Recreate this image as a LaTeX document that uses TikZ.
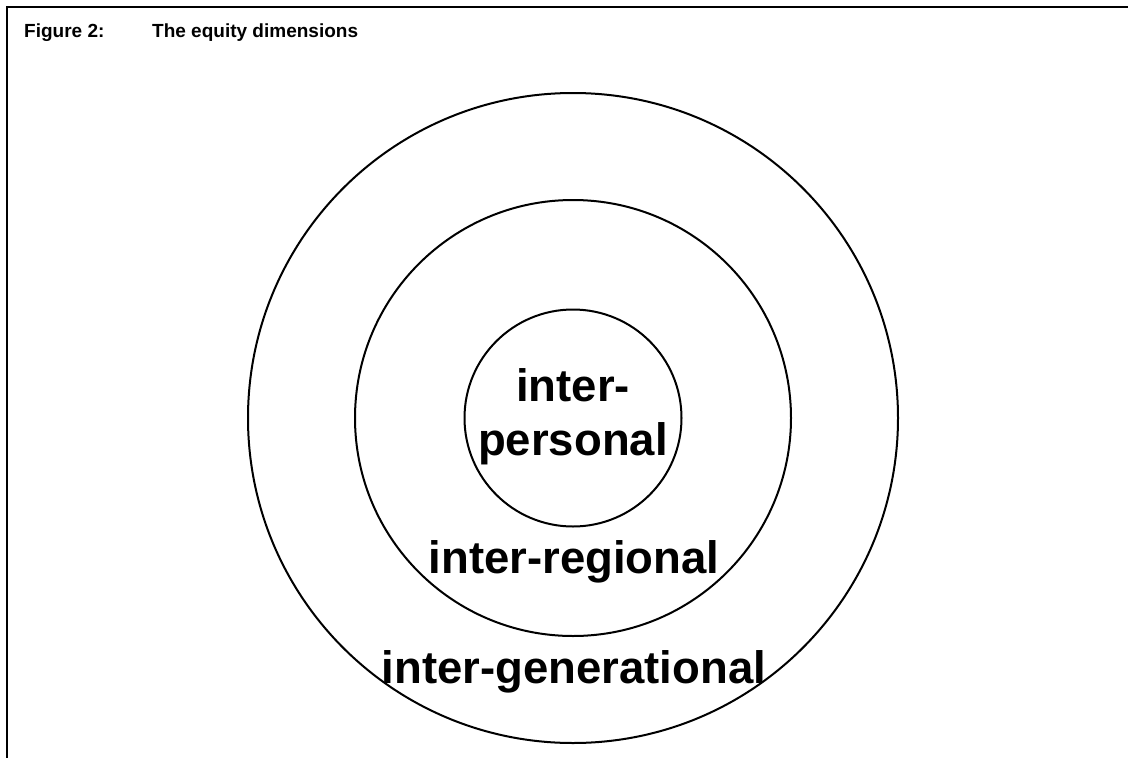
\documentclass[tikz,border=0pt]{standalone}
\usepackage{fontspec}
\setmainfont{Liberation Sans}
\tikzset{
  ring/.style={line width=2pt},
  bigtext/.style={inner sep=0pt, font=\fontsize{45.5}{54}\selectfont\bfseries},
  headtext/.style={anchor=base west, inner sep=0pt, font=\fontsize{19}{22}\selectfont\bfseries}
}
\begin{document}
\begin{tikzpicture}[x=1pt,y=-1pt]
\useasboundingbox (0,0) rectangle (1128,758);
%frame
\draw[line width=2pt] (7,758) -- (7,7) -- (1128,7);
%title
\node[headtext] (fig) at (24,37) {Figure 2:};
\node[headtext] (title) at (152,37) {The equity dimensions};
%circles
\draw[ring] (573,418) circle(325);
\draw[ring] (573,418) circle(218);
\draw[ring] (573,418) circle(108.5);
%labels
\node[bigtext, align=center] (pers) at (573,417) {inter-\\personal};
\node[bigtext, anchor=base] (reg) at (574,573) {inter-regional};
\node[bigtext, anchor=base] (gen) at (574,683) {inter-generational};
\end{tikzpicture}
\end{document}
